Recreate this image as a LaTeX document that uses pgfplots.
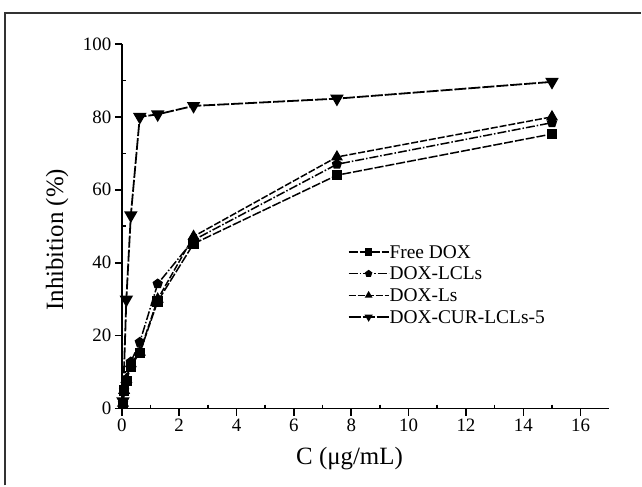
\documentclass[border=0pt]{standalone}
\usepackage{pgfplots}
\pgfplotsset{compat=1.18}
\usepackage{fontspec}
\setmainfont{Liberation Serif}
\newcommand{\chartfont}{\fontsize{19}{22}\selectfont}
\newcommand{\legfont}{\fontsize{19.5}{22}\selectfont}
\newcommand{\labelfont}{\fontsize{25}{30}\selectfont}
\begin{document}
\begin{tikzpicture}
\path (0bp,0bp) rectangle (642bp,486bp);
\draw[line width=1.4bp, black!80] (5bp,0bp) -- (5bp,473bp) -- (642bp,473bp);
\begin{axis}[
  at={(122bp,77bp)}, anchor=south west,
  scale only axis, width=488bp, height=365bp,
  xmin=0, xmax=17, ymin=0, ymax=100,
  axis x line*=bottom, axis y line*=left,
  axis line style={line width=1.6bp},
  xtick={0,2,...,16}, ytick={0,20,...,100},
  minor x tick num=1, minor y tick num=1,
  tick align=outside,
  major tick length=7bp, minor tick length=-4bp,
  tick style={line width=1.6bp, black},
  /pgf/number format/assume math mode=true,
  xticklabel={\chartfont\pgfmathprintnumber{\tick}},
  yticklabel={\chartfont\pgfmathprintnumber{\tick}},
  tick label style={font=\chartfont},
  xlabel={C (μg/mL)}, ylabel={Inhibition (\%)},
  x label style={at={(rel axis cs:0.467,-0.137)}, anchor=center, font=\labelfont},
  y label style={at={(rel axis cs:-0.133,0.463)}, rotate=0, anchor=center, font=\labelfont},
  clip=false,
  legend style={draw=none, fill=none, at={(rel axis cs:0.463,0.449)}, anchor=north west,
    font=\legfont, inner sep=0pt,
    nodes={inner sep=0pt, anchor=base west, text height=13bp, text depth=4bp}, row sep=4.7bp},
  legend cell align=left,
  legend image code/.code={\draw[yshift=6bp, mark repeat=2,mark phase=2] plot coordinates {(0bp,0bp) (20bp,0bp) (40bp,0bp)};},
  every legend image post/.style={mark size=3bp},
]
\addplot[black, line width=1.5bp, dash pattern=on 9bp off 2bp, mark=square*, mark size=4.5bp, mark options={solid}]
  coordinates {(0.039,1.5) (0.078,5) (0.156,7.5) (0.3125,11.6) (0.625,15.3) (1.25,29.4) (2.5,45.2) (7.5,64) (15,75.3)};
\addlegendentry{Free DOX}
\addplot[black, line width=1.5bp, dash pattern=on 9bp off 2bp on 1.5bp off 2bp, mark=pentagon*, mark size=4.5bp, mark options={solid}]
  coordinates {(0.039,1.5) (0.078,5) (0.156,8) (0.3125,12.8) (0.625,18.2) (1.25,34.2) (2.5,46.2) (7.5,67) (15,78.4)};
\addlegendentry{DOX-LCLs}
\addplot[black, line width=1.5bp, dash pattern=on 7bp off 2bp, mark=triangle*, mark size=5.5bp, mark options={solid}]
  coordinates {(0.039,1.5) (0.078,5) (0.156,8) (0.3125,12.3) (0.625,15.5) (1.25,30) (2.5,47.2) (7.5,69) (15,80)};
\addlegendentry{DOX-Ls}
\addplot[black, line width=1.8bp, dash pattern=on 12bp off 2bp, mark=triangle*, mark size=6bp, mark options={solid, rotate=180}]
  coordinates {(0.039,2) (0.156,29.9) (0.3125,53) (0.625,80) (1.25,80.7) (2.5,83) (7.5,85) (15,89.6)};
\addlegendentry{DOX-CUR-LCLs-5}
\end{axis}
\end{tikzpicture}
\end{document}
